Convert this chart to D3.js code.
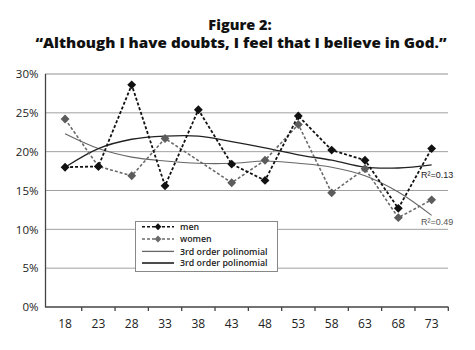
<!DOCTYPE html>
<html><head><meta charset="utf-8">
<script src="https://cdn.jsdelivr.net/npm/d3@7"></script>
<style>
html,body{margin:0;padding:0;background:#fff;}
svg{display:block;font-family:"Open Sans","DejaVu Sans",sans-serif;}
</style></head>
<body>
<svg id="c" width="475" height="350"></svg>
<script>
const ages = ["18","23","28","33","38","43","48","53","58","63","68","73"];
const men =   [18.0,18.1,28.6,15.6,25.4,18.4,16.3,24.6,20.2,18.9,12.7,20.4];
const women = [24.2,18.1,16.9,21.7,null,16.0,18.9,23.5,14.7,17.8,11.5,13.8];
const menTrend =   [18.0,20.4,21.6,22.0,22.0,21.3,20.5,19.6,18.9,18.0,17.9,18.3];
const womenTrend = [22.3,20.4,19.3,18.8,18.5,18.5,18.8,18.5,18.0,16.9,14.8,11.8];
const yTicks = [0,5,10,15,20,25,30];
const legendLabels = ["men","women","3rd order polinomial","3rd order polinomial"];
const r2Labels = ["R²=0.13","R²=0.49"];

const svg = d3.select("#c");
const x = d3.scaleBand().domain(ages).range([48.4,448.3]);
const cx = d => x(d) + x.bandwidth()/2;
const y = d3.scaleLinear().domain([0,30]).range([307,74]);

// title
svg.append("text").attr("x",240).attr("y",29.5).attr("text-anchor","middle")
  .attr("font-size",14.5).attr("font-weight",800).attr("fill","#111").text("Figure 2:");
svg.append("text").attr("x",241).attr("y",47.5).attr("text-anchor","middle")
  .attr("font-size",14.5).attr("font-weight",800).attr("fill","#111")
  .attr("textLength",411).attr("lengthAdjust","spacingAndGlyphs")
  .text("“Although I have doubts, I feel that I believe in God.”");

// gridlines
svg.append("g").selectAll("line").data(yTicks.filter(t=>t>0)).join("line")
  .attr("x1",45).attr("x2",448).attr("y1",d=>y(d)).attr("y2",d=>y(d))
  .attr("stroke",d=>d===30?"#c8c8c8":"#a0a0a0").attr("stroke-width",d=>d===30?2:1);

// y axis
const ya = svg.append("g").attr("transform","translate(45.5,0)")
  .call(d3.axisLeft(y).tickValues(yTicks).tickSize(0).tickPadding(7).tickFormat(d=>d+"%"));
ya.select(".domain").attr("stroke","#444").attr("stroke-width",1.3).attr("d","M0,74V307");
ya.selectAll("text").attr("font-size",11.5).attr("fill","#222").attr("font-family","Open Sans");

// x axis
svg.append("line").attr("x1",45).attr("x2",448.5).attr("y1",307).attr("y2",307)
  .attr("stroke","#444").attr("stroke-width",1.3);
svg.append("g").selectAll("line").data(ages).join("line")
  .attr("x1",d=>x(d)+x.bandwidth()).attr("x2",d=>x(d)+x.bandwidth())
  .attr("y1",307).attr("y2",311).attr("stroke","#444").attr("stroke-width",1.3);
svg.append("g").selectAll("text").data(ages).join("text")
  .attr("x",d=>cx(d)).attr("y",328).attr("text-anchor","middle")
  .attr("font-size",12).attr("fill","#222").text(d=>d);

// trend lines
const curve = d3.line().x(d=>cx(d[0])).y(d=>y(d[1])).curve(d3.curveCatmullRom);
svg.append("path").attr("d",curve(ages.map((a,i)=>[a,womenTrend[i]])))
  .attr("fill","none").attr("stroke","#666").attr("stroke-width",1.1);
svg.append("path").attr("d",curve(ages.map((a,i)=>[a,menTrend[i]])))
  .attr("fill","none").attr("stroke","#222").attr("stroke-width",1.3);

// data lines
const line = d3.line().x(d=>cx(d[0])).y(d=>y(d[1]));
const wpts = ages.map((a,i)=>[a,women[i]]).filter(d=>d[1]!==null);
const mpts = ages.map((a,i)=>[a,men[i]]);
svg.append("path").attr("d",line(wpts)).attr("fill","none")
  .attr("stroke","#6a6a6a").attr("stroke-width",1.6).attr("stroke-dasharray","3,2");
svg.append("path").attr("d",line(mpts)).attr("fill","none")
  .attr("stroke","#111").attr("stroke-width",1.8).attr("stroke-dasharray","3,2");

const diamond = d3.symbol().type(d3.symbolDiamond2).size(50);
svg.append("g").selectAll("path").data(wpts).join("path")
  .attr("transform",d=>`translate(${cx(d[0])},${y(d[1])})`).attr("d",diamond).attr("fill","#5c5c5c");
svg.append("g").selectAll("path").data(mpts).join("path")
  .attr("transform",d=>`translate(${cx(d[0])},${y(d[1])})`).attr("d",diamond).attr("fill","#111");

// R² labels
svg.append("text").attr("x",421).attr("y",177.5).attr("font-size",9).attr("fill","#222")
  .attr("font-family","Liberation Sans Narrow, Liberation Sans").text(r2Labels[0]);
svg.append("text").attr("x",421).attr("y",225).attr("font-size",9).attr("fill","#555")
  .attr("font-family","Liberation Sans Narrow, Liberation Sans").text(r2Labels[1]);

// legend
const lg = svg.append("g");
lg.append("rect").attr("x",135.5).attr("y",221.5).attr("width",142).attr("height",50)
  .attr("fill","#fff").attr("stroke","#888").attr("stroke-width",1);
const rows = [226.8,239,251.4,263];
const styles = [
  {c:"#111",dash:"3,2",w:1.6,m:true},
  {c:"#6a6a6a",dash:"3,2",w:1.4,m:true},
  {c:"#666",dash:null,w:1.3,m:false},
  {c:"#111",dash:null,w:1.5,m:false}
];
rows.forEach((ry,i)=>{
  const s = styles[i];
  lg.append("line").attr("x1",142).attr("x2",174).attr("y1",ry).attr("y2",ry)
    .attr("stroke",s.c).attr("stroke-width",s.w).attr("stroke-dasharray",s.dash);
  if(s.m) lg.append("path").attr("transform",`translate(158,${ry})`)
    .attr("d",d3.symbol().type(d3.symbolDiamond2).size(30)).attr("fill",s.c);
  lg.append("text").attr("x",180).attr("y",ry+3.1).attr("font-size",8.8).attr("font-weight",600)
    .attr("fill","#222").text(legendLabels[i]);
});
</script>
</body></html>
